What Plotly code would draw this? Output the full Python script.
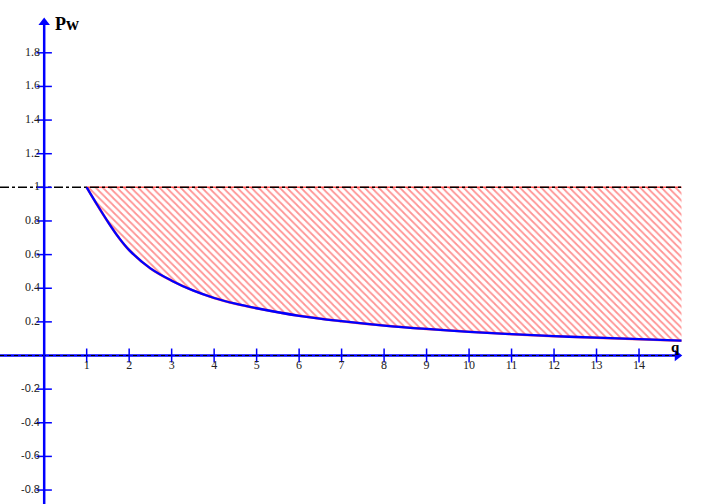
import plotly.graph_objects as go

# ---- data ----
q = [1.0, 1.25, 1.5, 1.75, 2.0, 2.5, 3.0, 3.5, 4.0, 4.5, 5.0, 6.0, 7.0, 8.0,
     9.0, 10.0, 11.0, 12.0, 13.0, 14.0, 15.0]
pw = [1.0, 0.895, 0.795, 0.703, 0.627, 0.518, 0.445, 0.387, 0.342, 0.308, 0.281,
      0.236, 0.204, 0.178, 0.158, 0.141, 0.127, 0.115, 0.106, 0.097, 0.088]
level = 1.0

x_ticks = [1, 2, 3, 4, 5, 6, 7, 8, 9, 10, 11, 12, 13, 14]
x_tick_labels = [str(v) for v in x_ticks]
y_ticks_pos = [0.2, 0.4, 0.6, 0.8, 1.0, 1.2, 1.4, 1.6, 1.8]
y_tick_labels_pos = ["0.2", "0.4", "0.6", "0.8", "1", "1.2", "1.4", "1.6", "1.8"]
y_ticks_neg = [-0.2, -0.4, -0.6, -0.8]
y_tick_labels_neg = ["-0.2", "-0.4", "-0.6", "-0.8"]

x_range = [-1.04, 15.6]
y_range = [-0.883, 2.114]
x_axis_end = 15.0
y_axis_end = 2.0

BLUE = "#0000ff"
SERIF = "Liberation Serif"
SANS = "Liberation Sans"

fig = go.Figure()

# hatched region between level and curve
fig.add_trace(go.Scatter(x=q, y=[level] * len(q), mode="lines",
                         line=dict(color="rgba(255,60,60,0.9)", width=1.5),
                         hoverinfo="skip", showlegend=False))
fig.add_trace(go.Scatter(x=q, y=pw, mode="lines", fill="tonexty",
                         fillcolor="rgba(255,255,255,0)",
                         fillpattern=dict(shape="\\", fgcolor="rgba(255,40,40,1)",
                                          bgcolor="rgba(255,255,255,0)",
                                          size=5, solidity=0.35),
                         line=dict(color="rgba(255,60,60,0.8)", width=2.5, shape="spline"),
                         hoverinfo="skip", showlegend=False))

# dash-dot level line across the plot
fig.add_trace(go.Scatter(x=[x_range[0], x_axis_end], y=[level, level], mode="lines",
                         line=dict(color="black", width=1.5, dash="dashdot"),
                         hoverinfo="skip", showlegend=False))

# x axis: blue with black dashes
fig.add_trace(go.Scatter(x=[x_range[0], x_axis_end - 0.1], y=[0, 0], mode="lines",
                         line=dict(color=BLUE, width=2.5),
                         hoverinfo="skip", showlegend=False))
fig.add_trace(go.Scatter(x=[x_range[0], x_axis_end - 0.1], y=[0, 0], mode="lines",
                         line=dict(color="black", width=1.2, dash="4px,3px"),
                         hoverinfo="skip", showlegend=False))
# y axis
fig.add_trace(go.Scatter(x=[0, 0], y=[y_range[0], y_axis_end - 0.02], mode="lines",
                         line=dict(color=BLUE, width=2.5),
                         hoverinfo="skip", showlegend=False))

# arrows
fig.add_trace(go.Scatter(x=[x_axis_end - 0.1], y=[0], mode="markers",
                         marker=dict(symbol="triangle-right", size=10, color=BLUE),
                         hoverinfo="skip", showlegend=False))
fig.add_trace(go.Scatter(x=[0], y=[y_axis_end - 0.02], mode="markers",
                         marker=dict(symbol="triangle-up", size=10, color=BLUE),
                         hoverinfo="skip", showlegend=False))

# tick marks
fig.add_trace(go.Scatter(x=x_ticks, y=[0] * len(x_ticks), mode="markers",
                         marker=dict(symbol="line-ns", size=10,
                                     line=dict(color=BLUE, width=1.5)),
                         hoverinfo="skip", showlegend=False))
y_all = y_ticks_neg + y_ticks_pos
fig.add_trace(go.Scatter(x=[0] * len(y_all), y=y_all, mode="markers",
                         marker=dict(symbol="line-ew", size=11,
                                     line=dict(color=BLUE, width=1.5)),
                         hoverinfo="skip", showlegend=False))

# curve
fig.add_trace(go.Scatter(x=q, y=pw, mode="lines",
                         line=dict(color=BLUE, width=2.3, shape="spline"),
                         hoverinfo="skip", showlegend=False))

# tick labels
fig.add_trace(go.Scatter(x=x_ticks, y=[-0.065] * len(x_ticks), mode="text",
                         text=x_tick_labels, textposition="middle center",
                         textfont=dict(family=SERIF, size=12, color="#222"),
                         hoverinfo="skip", showlegend=False))
fig.add_trace(go.Scatter(x=[-0.1] * len(y_ticks_pos), y=y_ticks_pos, mode="text",
                         text=y_tick_labels_pos, textposition="middle left",
                         textfont=dict(family=SERIF, size=12, color="#222"),
                         hoverinfo="skip", showlegend=False))
fig.add_trace(go.Scatter(x=[-0.1] * len(y_ticks_neg), y=y_ticks_neg, mode="text",
                         text=y_tick_labels_neg, textposition="middle left",
                         textfont=dict(family=SANS, size=11, color="#222"),
                         hoverinfo="skip", showlegend=False))

# axis names
fig.add_annotation(x=0.2, y=1.97, text="<b>Pw</b>", showarrow=False, xanchor="left",
                   yanchor="middle", font=dict(family=SERIF, size=18, color="black"))
fig.add_annotation(x=14.85, y=0.05, text="<b>q</b>", showarrow=False, xanchor="center",
                   yanchor="middle", font=dict(family=SERIF, size=15, color="black"))

fig.update_layout(
    width=707, height=504,
    margin=dict(l=0, r=0, t=0, b=0),
    paper_bgcolor="white", plot_bgcolor="white",
    xaxis=dict(range=x_range, visible=False, fixedrange=True),
    yaxis=dict(range=y_range, visible=False, fixedrange=True),
    hovermode=False, showlegend=False,
)

fig.write_html("out.html", config={"displayModeBar": False},
               post_script="document.body.style.margin='0';document.body.style.overflow='hidden';")
